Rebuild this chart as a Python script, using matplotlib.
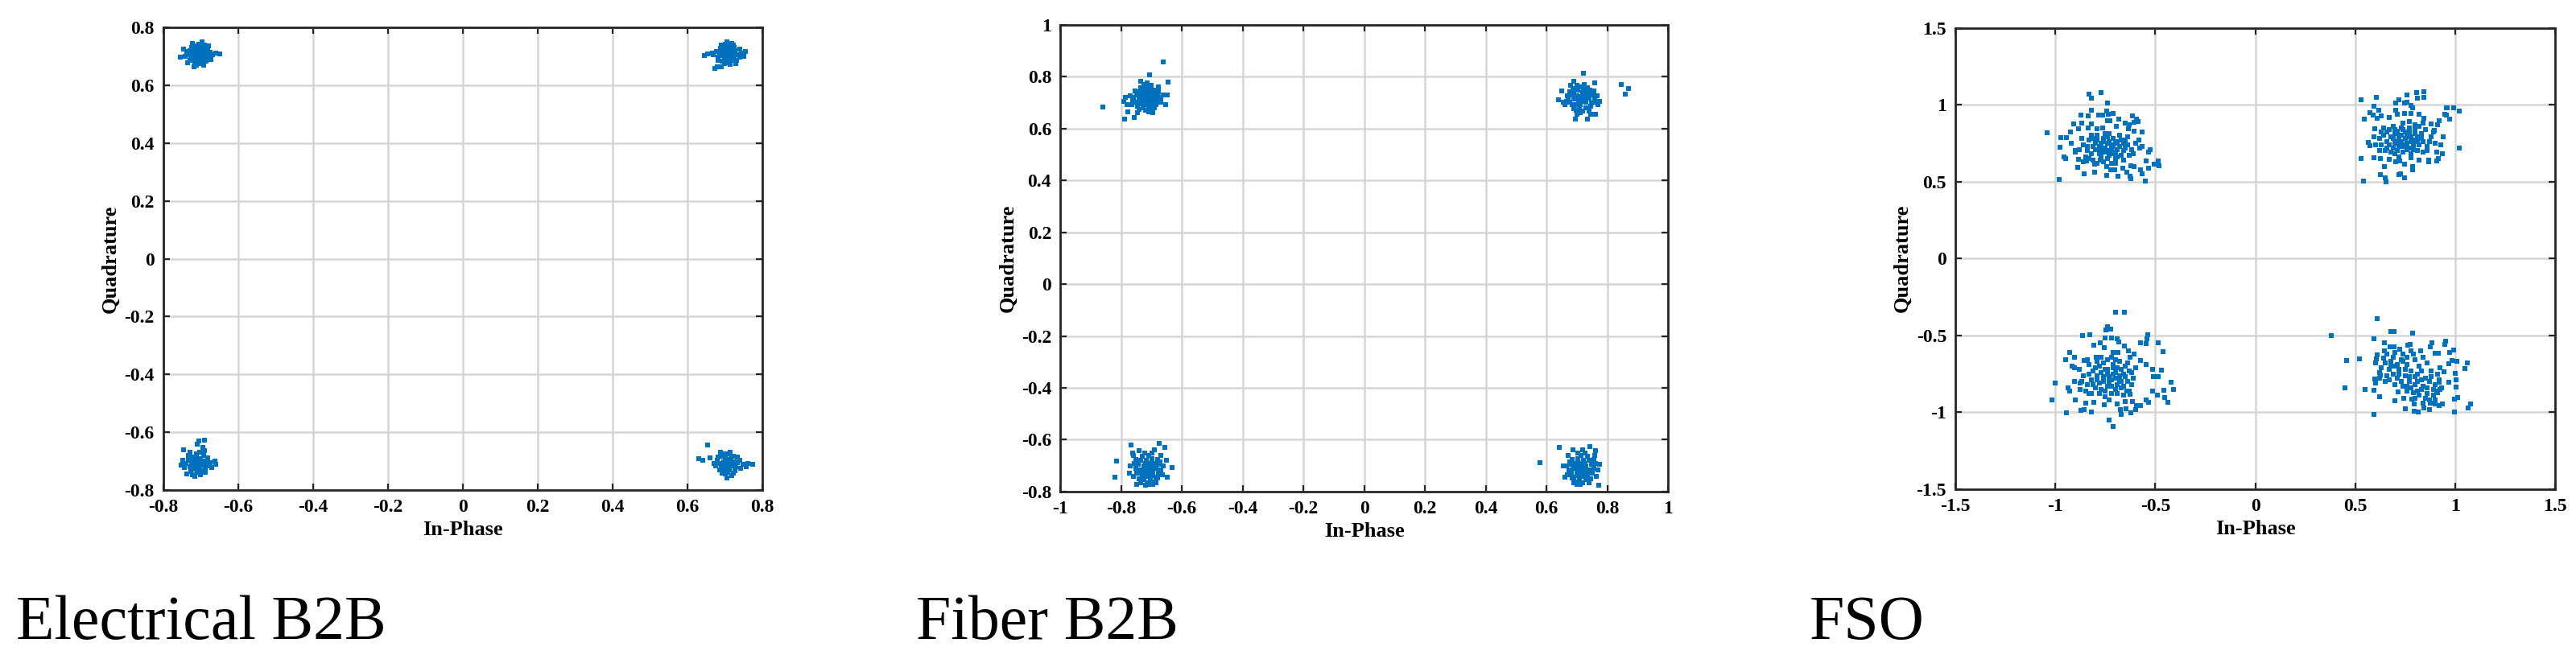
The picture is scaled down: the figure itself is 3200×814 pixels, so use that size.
import matplotlib
matplotlib.use("Agg")
import matplotlib.pyplot as plt
import numpy as np

# ---- constellation points (I, Q) ----
elec_ul = [(-0.707, 0.707), (-0.712, 0.715), (-0.700, 0.700), (-0.718, 0.703), (-0.696, 0.712), (-0.705, 0.722),
           (-0.710, 0.693), (-0.722, 0.712), (-0.692, 0.702), (-0.701, 0.690), (-0.715, 0.724), (-0.690, 0.718),
           (-0.726, 0.698), (-0.703, 0.730), (-0.714, 0.684), (-0.697, 0.725), (-0.684, 0.708), (-0.729, 0.720),
           (-0.708, 0.679), (-0.720, 0.690), (-0.688, 0.694), (-0.699, 0.686), (-0.724, 0.730), (-0.711, 0.736),
           (-0.694, 0.733), (-0.682, 0.722), (-0.733, 0.706), (-0.678, 0.700), (-0.716, 0.674), (-0.701, 0.676),
           (-0.737, 0.716), (-0.690, 0.740), (-0.706, 0.742), (-0.674, 0.714), (-0.742, 0.700), (-0.728, 0.685),
           (-0.686, 0.683), (-0.712, 0.668), (-0.669, 0.705), (-0.660, 0.712), (-0.650, 0.708), (-0.755, 0.698),
           (-0.745, 0.724), (-0.722, 0.745), (-0.697, 0.750), (-0.680, 0.735), (-0.673, 0.690), (-0.735, 0.678),
           (-0.718, 0.663), (-0.692, 0.670)]
elec_ur = [(0.707, 0.707), (0.712, 0.699), (0.700, 0.714), (0.719, 0.711), (0.695, 0.703), (0.704, 0.722),
           (0.716, 0.692), (0.691, 0.716), (0.724, 0.702), (0.700, 0.690), (0.713, 0.728), (0.686, 0.708),
           (0.728, 0.718), (0.697, 0.730), (0.720, 0.685), (0.708, 0.737), (0.681, 0.697), (0.733, 0.705),
           (0.693, 0.683), (0.726, 0.730), (0.710, 0.678), (0.677, 0.716), (0.739, 0.696), (0.702, 0.742),
           (0.688, 0.728), (0.718, 0.745), (0.683, 0.686), (0.732, 0.686), (0.745, 0.712), (0.670, 0.705),
           (0.715, 0.672), (0.699, 0.675), (0.722, 0.740), (0.690, 0.740), (0.740, 0.725), (0.705, 0.750),
           (0.666, 0.712), (0.655, 0.708), (0.645, 0.703), (0.680, 0.665), (0.673, 0.658), (0.691, 0.664),
           (0.750, 0.700), (0.755, 0.716), (0.729, 0.676), (0.711, 0.690), (0.703, 0.698), (0.717, 0.718),
           (0.694, 0.720), (0.726, 0.712)]
elec_ll = [(-0.707, -0.707), (-0.714, -0.699), (-0.700, -0.715), (-0.719, -0.712), (-0.696, -0.701),
           (-0.705, -0.724), (-0.712, -0.690), (-0.724, -0.703), (-0.690, -0.712), (-0.701, -0.692),
           (-0.716, -0.728), (-0.728, -0.718), (-0.688, -0.724), (-0.697, -0.734), (-0.721, -0.685),
           (-0.733, -0.697), (-0.684, -0.700), (-0.709, -0.740), (-0.693, -0.680), (-0.726, -0.735),
           (-0.739, -0.709), (-0.678, -0.716), (-0.712, -0.675), (-0.700, -0.746), (-0.744, -0.722),
           (-0.681, -0.688), (-0.722, -0.746), (-0.734, -0.680), (-0.674, -0.705), (-0.688, -0.738),
           (-0.748, -0.698), (-0.704, -0.668), (-0.716, -0.752), (-0.670, -0.722), (-0.752, -0.715),
           (-0.729, -0.670), (-0.690, -0.664), (-0.695, -0.652), (-0.710, -0.642), (-0.690, -0.628),
           (-0.705, -0.630), (-0.745, -0.660), (-0.663, -0.700), (-0.661, -0.712), (-0.737, -0.743),
           (-0.703, -0.717), (-0.718, -0.706), (-0.694, -0.708), (-0.710, -0.720), (-0.725, -0.692)]
elec_lr = [(0.707, -0.707), (0.713, -0.700), (0.700, -0.714), (0.720, -0.711), (0.696, -0.702), (0.705, -0.723),
           (0.716, -0.691), (0.690, -0.716), (0.725, -0.703), (0.701, -0.690), (0.712, -0.729), (0.685, -0.707),
           (0.729, -0.719), (0.697, -0.732), (0.722, -0.684), (0.708, -0.740), (0.680, -0.697), (0.734, -0.706),
           (0.692, -0.682), (0.727, -0.733), (0.710, -0.676), (0.676, -0.717), (0.740, -0.697), (0.702, -0.745),
           (0.687, -0.729), (0.719, -0.750), (0.683, -0.686), (0.733, -0.687), (0.748, -0.712), (0.671, -0.708),
           (0.715, -0.670), (0.699, -0.674), (0.723, -0.742), (0.693, -0.742), (0.742, -0.726), (0.706, -0.757),
           (0.653, -0.645), (0.630, -0.690), (0.642, -0.697), (0.660, -0.688), (0.775, -0.712), (0.762, -0.707),
           (0.688, -0.668), (0.757, -0.720), (0.711, -0.713), (0.703, -0.699), (0.718, -0.717), (0.694, -0.721),
           (0.726, -0.711), (0.709, -0.693)]

fiber_ul = [(-0.715, 0.715), (-0.705, 0.725), (-0.725, 0.705), (-0.700, 0.705), (-0.730, 0.725), (-0.712, 0.738),
            (-0.718, 0.692), (-0.690, 0.718), (-0.740, 0.712), (-0.695, 0.735), (-0.735, 0.695), (-0.722, 0.750),
            (-0.708, 0.682), (-0.683, 0.700), (-0.748, 0.730), (-0.702, 0.752), (-0.728, 0.680), (-0.680, 0.730),
            (-0.752, 0.700), (-0.690, 0.690), (-0.740, 0.742), (-0.715, 0.760), (-0.720, 0.670), (-0.675, 0.712),
            (-0.758, 0.718), (-0.697, 0.672), (-0.735, 0.758), (-0.688, 0.748), (-0.745, 0.684), (-0.710, 0.700),
            (-0.720, 0.728), (-0.700, 0.716), (-0.730, 0.712), (-0.712, 0.722), (-0.705, 0.690), (-0.726, 0.740),
            (-0.693, 0.726), (-0.738, 0.722), (-0.716, 0.704), (-0.684, 0.690), (-0.762, 0.708), (-0.670, 0.720),
            (-0.678, 0.742), (-0.755, 0.745), (-0.725, 0.768), (-0.700, 0.766), (-0.710, 0.665), (-0.740, 0.672),
            (-0.690, 0.678), (-0.668, 0.700), (-0.765, 0.690), (-0.770, 0.725), (-0.676, 0.760), (-0.745, 0.660),
            (-0.695, 0.660), (-0.660, 0.730), (-0.715, 0.775), (-0.735, 0.780), (-0.705, 0.745), (-0.722, 0.690),
            (-0.698, 0.700), (-0.732, 0.732), (-0.661, 0.856), (-0.706, 0.806), (-0.860, 0.682), (-0.788, 0.636),
            (-0.756, 0.642), (-0.645, 0.778), (-0.648, 0.729), (-0.653, 0.690), (-0.785, 0.720), (-0.780, 0.690),
            (-0.790, 0.705), (-0.778, 0.665)]
fiber_ur = [(0.715, 0.712), (0.725, 0.722), (0.705, 0.702), (0.730, 0.700), (0.700, 0.725), (0.718, 0.738),
            (0.712, 0.690), (0.740, 0.715), (0.690, 0.712), (0.735, 0.735), (0.695, 0.692), (0.722, 0.750),
            (0.708, 0.680), (0.748, 0.698), (0.682, 0.728), (0.702, 0.748), (0.730, 0.680), (0.752, 0.730),
            (0.678, 0.700), (0.690, 0.740), (0.742, 0.748), (0.715, 0.760), (0.720, 0.668), (0.758, 0.712),
            (0.672, 0.715), (0.697, 0.670), (0.735, 0.758), (0.688, 0.752), (0.745, 0.684), (0.710, 0.700),
            (0.720, 0.726), (0.700, 0.716), (0.730, 0.712), (0.712, 0.722), (0.705, 0.690), (0.726, 0.740),
            (0.693, 0.726), (0.738, 0.722), (0.716, 0.704), (0.684, 0.690), (0.762, 0.700), (0.668, 0.725),
            (0.676, 0.742), (0.755, 0.745), (0.725, 0.768), (0.700, 0.766), (0.710, 0.662), (0.740, 0.668),
            (0.690, 0.675), (0.665, 0.705), (0.768, 0.725), (0.770, 0.690), (0.660, 0.690), (0.745, 0.655),
            (0.700, 0.655), (0.680, 0.765), (0.722, 0.812), (0.846, 0.769), (0.870, 0.753), (0.860, 0.732),
            (0.735, 0.636), (0.695, 0.636), (0.650, 0.745), (0.655, 0.700), (0.760, 0.775), (0.775, 0.705),
            (0.762, 0.655), (0.690, 0.780), (0.640, 0.710)]
fiber_ll = [(-0.710, -0.715), (-0.700, -0.705), (-0.720, -0.725), (-0.695, -0.725), (-0.725, -0.700),
            (-0.707, -0.690), (-0.713, -0.740), (-0.685, -0.710), (-0.735, -0.715), (-0.690, -0.690),
            (-0.730, -0.738), (-0.717, -0.678), (-0.703, -0.752), (-0.678, -0.730), (-0.743, -0.695),
            (-0.697, -0.672), (-0.725, -0.752), (-0.675, -0.695), (-0.748, -0.728), (-0.685, -0.745),
            (-0.735, -0.680), (-0.710, -0.662), (-0.715, -0.765), (-0.668, -0.715), (-0.752, -0.710),
            (-0.692, -0.762), (-0.730, -0.665), (-0.680, -0.676), (-0.740, -0.750), (-0.705, -0.727),
            (-0.715, -0.700), (-0.695, -0.715), (-0.725, -0.713), (-0.707, -0.705), (-0.700, -0.738),
            (-0.720, -0.690), (-0.688, -0.700), (-0.733, -0.728), (-0.711, -0.720), (-0.679, -0.748),
            (-0.757, -0.690), (-0.665, -0.735), (-0.672, -0.685), (-0.750, -0.675), (-0.722, -0.650),
            (-0.698, -0.650), (-0.705, -0.772), (-0.735, -0.765), (-0.685, -0.767), (-0.662, -0.700),
            (-0.760, -0.742), (-0.758, -0.662), (-0.668, -0.660), (-0.740, -0.642), (-0.690, -0.640),
            (-0.720, -0.775), (-0.815, -0.682), (-0.820, -0.744), (-0.767, -0.620), (-0.674, -0.614),
            (-0.656, -0.629), (-0.632, -0.707), (-0.648, -0.744), (-0.748, -0.772), (-0.695, -0.772),
            (-0.770, -0.700), (-0.772, -0.728), (-0.650, -0.680), (-0.762, -0.652)]
fiber_lr = [(0.715, -0.715), (0.705, -0.705), (0.725, -0.725), (0.700, -0.725), (0.730, -0.700), (0.712, -0.690),
            (0.718, -0.740), (0.690, -0.710), (0.740, -0.715), (0.695, -0.690), (0.735, -0.738), (0.722, -0.678),
            (0.708, -0.752), (0.683, -0.730), (0.748, -0.695), (0.702, -0.672), (0.730, -0.752), (0.680, -0.695),
            (0.752, -0.728), (0.690, -0.745), (0.740, -0.680), (0.715, -0.662), (0.720, -0.765), (0.673, -0.715),
            (0.757, -0.710), (0.697, -0.762), (0.735, -0.665), (0.685, -0.676), (0.745, -0.750), (0.710, -0.727),
            (0.720, -0.700), (0.700, -0.715), (0.730, -0.713), (0.712, -0.705), (0.705, -0.738), (0.725, -0.690),
            (0.693, -0.700), (0.738, -0.728), (0.716, -0.720), (0.684, -0.748), (0.762, -0.690), (0.670, -0.735),
            (0.677, -0.685), (0.755, -0.675), (0.727, -0.650), (0.703, -0.650), (0.710, -0.772), (0.740, -0.765),
            (0.690, -0.767), (0.667, -0.700), (0.765, -0.742), (0.760, -0.662), (0.672, -0.660), (0.700, -0.772),
            (0.579, -0.688), (0.642, -0.629), (0.743, -0.626), (0.762, -0.642), (0.772, -0.775), (0.687, -0.639),
            (0.660, -0.745), (0.655, -0.700), (0.770, -0.715), (0.775, -0.695), (0.720, -0.640)]

fso_ul = [(-0.83, 1.07), (-0.82, 1.04), (-0.77, 1.08), (-0.74, 1.01), (-0.818, 0.965), (-0.743, 0.960),
          (-0.784, 0.935), (-0.764, 0.935), (-0.734, 0.939), (-0.712, 0.942), (-0.872, 0.933), (-0.835, 0.925),
          (-0.682, 0.907), (-0.615, 0.926), (-0.595, 0.904), (-0.908, 0.877), (-0.868, 0.881), (-0.820, 0.874),
          (-0.739, 0.898), (-0.726, 0.895), (-0.649, 0.881), (-0.631, 0.868), (-0.607, 0.886), (-0.585, 0.891),
          (-1.043, 0.819), (-0.973, 0.786), (-0.946, 0.786), (-0.926, 0.825), (-0.885, 0.842), (-0.838, 0.851),
          (-0.791, 0.842), (-0.764, 0.851), (-0.696, 0.860), (-0.635, 0.846), (-0.608, 0.828), (-0.568, 0.825),
          (-0.581, 0.772), (-0.568, 0.728), (-0.534, 0.693), (-0.527, 0.705), (-0.977, 0.725), (-0.955, 0.661),
          (-0.949, 0.649), (-0.899, 0.693), (-0.885, 0.644), (-0.845, 0.632), (-0.804, 0.611), (-0.777, 0.640),
          (-0.743, 0.596), (-0.723, 0.579), (-0.703, 0.579), (-0.662, 0.588), (-0.642, 0.561), (-0.622, 0.605),
          (-0.608, 0.596), (-0.574, 0.579), (-0.568, 0.553), (-0.547, 0.635), (-0.534, 0.588), (-0.507, 0.614),
          (-0.486, 0.632), (-0.482, 0.604), (-0.980, 0.516), (-0.888, 0.593), (-0.858, 0.553), (-0.804, 0.561),
          (-0.743, 0.540), (-0.689, 0.535), (-0.622, 0.518), (-0.550, 0.504), (-0.628, 0.535),
          (-0.75, 0.72), (-0.72, 0.74), (-0.78, 0.70), (-0.70, 0.69), (-0.76, 0.76), (-0.81, 0.73), (-0.68, 0.73),
          (-0.73, 0.67), (-0.79, 0.77), (-0.66, 0.70), (-0.74, 0.79), (-0.84, 0.70), (-0.71, 0.78), (-0.77, 0.66),
          (-0.69, 0.76), (-0.82, 0.68), (-0.64, 0.74), (-0.75, 0.69), (-0.80, 0.75), (-0.72, 0.71), (-0.67, 0.67),
          (-0.86, 0.74), (-0.78, 0.73), (-0.70, 0.65), (-0.74, 0.75), (-0.83, 0.77), (-0.65, 0.77), (-0.76, 0.63),
          (-0.88, 0.71), (-0.62, 0.71), (-0.79, 0.80), (-0.71, 0.73), (-0.73, 0.81), (-0.85, 0.66), (-0.68, 0.80),
          (-0.81, 0.64), (-0.63, 0.67), (-0.77, 0.75), (-0.69, 0.71), (-0.74, 0.65), (-0.80, 0.71), (-0.66, 0.64),
          (-0.87, 0.78), (-0.60, 0.75), (-0.76, 0.78), (-0.72, 0.62), (-0.84, 0.73), (-0.70, 0.75), (-0.78, 0.68),
          (-0.65, 0.72), (-0.82, 0.80), (-0.75, 0.81), (-0.90, 0.70), (-0.61, 0.68), (-0.73, 0.70), (-0.79, 0.62),
          (-0.67, 0.77), (-0.83, 0.65), (-0.71, 0.68), (-0.77, 0.72), (-0.58, 0.72), (-0.86, 0.63), (-0.64, 0.79),
          (-0.92, 0.75), (-0.70, 0.62), (-0.76, 0.69), (-0.69, 0.66), (-0.81, 0.78), (-0.73, 0.76), (-0.66, 0.75)]
fso_ur = [(0.530, 1.030), (0.606, 1.049), (0.758, 1.065), (0.808, 1.079), (0.844, 1.084), (0.812, 1.044),
          (0.842, 1.049), (0.720, 1.030), (0.745, 1.009), (0.758, 1.018), (0.779, 0.995), (0.788, 0.982),
          (0.592, 0.988), (0.704, 1.012), (0.618, 0.965), (0.572, 0.947), (0.588, 0.930), (0.546, 0.904),
          (0.609, 0.912), (0.629, 0.925), (0.670, 0.918), (0.704, 0.965), (0.711, 0.939), (0.745, 0.944),
          (0.779, 0.942), (0.819, 0.939), (0.842, 0.912), (0.962, 0.982), (0.955, 0.979), (0.992, 0.977),
          (1.019, 0.960), (0.948, 0.939), (0.955, 0.930), (0.971, 0.904), (0.918, 0.895), (0.910, 0.872),
          (0.878, 0.877), (0.894, 0.833), (0.599, 0.842), (0.629, 0.825), (0.595, 0.789), (0.564, 0.754),
          (0.572, 0.732), (0.602, 0.737), (0.622, 0.702), (0.939, 0.789), (0.928, 0.737), (0.908, 0.693),
          (0.935, 0.681), (0.914, 0.649), (0.908, 0.632), (1.019, 0.716), (0.531, 0.649), (0.595, 0.653),
          (0.626, 0.649), (0.670, 0.644), (0.704, 0.628), (0.724, 0.635), (0.745, 0.614), (0.779, 0.654),
          (0.819, 0.640), (0.867, 0.640), (0.867, 0.628), (0.647, 0.600), (0.788, 0.600), (0.788, 0.575),
          (0.625, 0.544), (0.720, 0.544), (0.728, 0.553), (0.745, 0.526), (0.649, 0.523), (0.654, 0.500),
          (0.541, 0.505),
          (0.75, 0.78), (0.72, 0.80), (0.78, 0.76), (0.70, 0.75), (0.77, 0.82), (0.81, 0.79), (0.68, 0.79),
          (0.74, 0.73), (0.80, 0.84), (0.66, 0.76), (0.73, 0.85), (0.84, 0.76), (0.71, 0.83), (0.79, 0.71),
          (0.69, 0.72), (0.83, 0.81), (0.64, 0.80), (0.76, 0.75), (0.72, 0.77), (0.86, 0.73), (0.67, 0.84),
          (0.78, 0.79), (0.74, 0.69), (0.82, 0.74), (0.70, 0.81), (0.63, 0.74), (0.80, 0.87), (0.76, 0.71),
          (0.88, 0.79), (0.65, 0.70), (0.73, 0.76), (0.85, 0.84), (0.71, 0.70), (0.77, 0.85), (0.69, 0.86),
          (0.81, 0.70), (0.75, 0.82), (0.66, 0.82), (0.84, 0.69), (0.72, 0.73), (0.79, 0.74), (0.62, 0.78),
          (0.87, 0.76), (0.74, 0.88), (0.70, 0.68), (0.78, 0.68), (0.83, 0.78), (0.67, 0.74), (0.76, 0.79),
          (0.80, 0.81), (0.73, 0.80), (0.89, 0.82), (0.64, 0.85), (0.71, 0.76), (0.82, 0.86), (0.77, 0.72),
          (0.68, 0.69), (0.86, 0.70), (0.74, 0.84), (0.79, 0.77), (0.69, 0.78), (0.84, 0.88), (0.72, 0.66),
          (0.66, 0.72), (0.81, 0.76), (0.75, 0.74), (0.90, 0.75), (0.77, 0.89), (0.70, 0.84), (0.63, 0.82)]
fso_ll = [(-0.700, -0.351), (-0.655, -0.347), (-0.739, -0.442), (-0.723, -0.461), (-0.747, -0.465),
          (-0.865, -0.500), (-0.828, -0.495), (-0.750, -0.518), (-0.719, -0.518), (-0.693, -0.521),
          (-0.682, -0.544), (-0.538, -0.495), (-0.541, -0.523), (-0.574, -0.549), (-0.545, -0.553),
          (-0.486, -0.549), (-0.462, -0.605), (-0.807, -0.565), (-0.777, -0.547), (-0.757, -0.582),
          (-0.655, -0.570), (-0.635, -0.600), (-0.605, -0.619), (-0.689, -0.611), (-0.928, -0.611),
          (-0.950, -0.658), (-0.905, -0.640), (-0.858, -0.663), (-0.797, -0.640), (-0.628, -0.640),
          (-0.574, -0.663), (-0.545, -0.689), (-0.514, -0.723), (-0.468, -0.728), (-0.511, -0.768),
          (-0.484, -0.768), (-0.916, -0.698), (-0.903, -0.711), (-1.003, -0.811), (-0.935, -0.839),
          (-0.930, -0.863), (-0.905, -0.798), (-0.876, -0.811), (-0.876, -0.851), (-0.901, -0.918),
          (-1.018, -0.918), (-0.946, -1.005), (-0.872, -0.988), (-0.855, -0.982), (-0.818, -0.996),
          (-0.847, -0.939), (-0.807, -0.933), (-0.422, -0.802), (-0.408, -0.851), (-0.457, -0.856),
          (-0.491, -0.889), (-0.454, -0.904), (-0.436, -0.933), (-0.514, -0.860), (-0.547, -0.921),
          (-0.536, -0.933), (-0.574, -0.956), (-0.595, -0.956), (-0.597, -0.982), (-0.622, -1.005),
          (-0.669, -1.014), (-0.676, -0.982), (-0.646, -0.979), (-0.693, -0.947), (-0.757, -0.953),
          (-0.732, -1.049), (-0.712, -1.091), (-0.831, -0.877), (-0.642, -0.860), (-0.628, -0.881),
          (-0.615, -0.930), (-0.649, -0.930),
          (-0.73, -0.77), (-0.70, -0.74), (-0.76, -0.80), (-0.68, -0.79), (-0.75, -0.72), (-0.79, -0.76),
          (-0.66, -0.75), (-0.72, -0.83), (-0.78, -0.70), (-0.64, -0.80), (-0.71, -0.69), (-0.82, -0.79),
          (-0.69, -0.71), (-0.77, -0.85), (-0.67, -0.84), (-0.81, -0.73), (-0.62, -0.74), (-0.74, -0.75),
          (-0.70, -0.78), (-0.84, -0.82), (-0.65, -0.70), (-0.76, -0.68), (-0.72, -0.88), (-0.80, -0.84),
          (-0.68, -0.67), (-0.61, -0.78), (-0.78, -0.81), (-0.74, -0.66), (-0.86, -0.76), (-0.63, -0.86),
          (-0.71, -0.75), (-0.83, -0.69), (-0.69, -0.82), (-0.75, -0.90), (-0.67, -0.72), (-0.79, -0.67),
          (-0.73, -0.80), (-0.60, -0.71), (-0.85, -0.86), (-0.72, -0.64), (-0.76, -0.77), (-0.66, -0.89),
          (-0.80, -0.71), (-0.70, -0.85), (-0.64, -0.68), (-0.77, -0.74), (-0.82, -0.88), (-0.74, -0.83),
          (-0.68, -0.76), (-0.88, -0.72), (-0.71, -0.71), (-0.62, -0.82), (-0.79, -0.79), (-0.75, -0.86),
          (-0.65, -0.77), (-0.70, -0.66), (-0.83, -0.75), (-0.73, -0.92), (-0.67, -0.80), (-0.77, -0.64),
          (-0.69, -0.88), (-0.81, -0.82), (-0.74, -0.72), (-0.63, -0.73), (-0.87, -0.80), (-0.72, -0.79),
          (-0.78, -0.88), (-0.66, -0.83), (-0.71, -0.61), (-0.84, -0.66)]
fso_lr = [(0.608, -0.390), (0.382, -0.500), (0.677, -0.475), (0.696, -0.475), (0.788, -0.484), (0.595, -0.523),
          (0.646, -0.549), (0.457, -0.661), (0.522, -0.655), (0.450, -0.841), (0.549, -0.850), (0.595, -0.855),
          (0.592, -1.014), (0.622, -0.899), (0.700, -0.926), (0.743, -0.908), (0.751, -0.979), (0.784, -0.912),
          (0.795, -0.947), (0.795, -0.991), (0.815, -1.000), (0.842, -0.973), (0.872, -0.982), (0.876, -0.938),
          (0.899, -0.947), (0.918, -0.956), (0.935, -0.943), (0.899, -0.917), (0.995, -1.000), (0.997, -0.912),
          (1.011, -0.903), (1.004, -0.837), (1.004, -0.788), (1.000, -0.747), (0.968, -0.802), (1.062, -0.678),
          (1.049, -0.714), (1.007, -0.670), (0.984, -0.664), (0.970, -0.686), (0.991, -0.594), (0.973, -0.611),
          (0.950, -0.535), (0.947, -0.558), (0.916, -0.615), (0.899, -0.617), (0.882, -0.546), (0.876, -0.576),
          (0.828, -0.602), (0.774, -0.558), (0.761, -0.562), (0.723, -0.588), (0.693, -0.576), (0.673, -0.572),
          (0.646, -0.602), (0.609, -0.625), (0.605, -0.655), (0.596, -0.784), (0.601, -0.811), (0.626, -0.756),
          (1.078, -0.947), (1.066, -0.973), (0.943, -0.735), (0.923, -0.708), (0.920, -0.806), (0.923, -0.850),
          (0.909, -0.864), (0.714, -0.867), (0.758, -0.832),
          (0.70, -0.70), (0.73, -0.66), (0.67, -0.72), (0.76, -0.69), (0.69, -0.64), (0.72, -0.75), (0.65, -0.68),
          (0.78, -0.73), (0.74, -0.62), (0.66, -0.76), (0.80, -0.66), (0.71, -0.78), (0.63, -0.71), (0.77, -0.77),
          (0.68, -0.67), (0.75, -0.72), (0.82, -0.70), (0.70, -0.61), (0.64, -0.65), (0.79, -0.62), (0.73, -0.80),
          (0.67, -0.79), (0.84, -0.64), (0.71, -0.69), (0.76, -0.64), (0.62, -0.74), (0.81, -0.75), (0.68, -0.70),
          (0.74, -0.67), (0.66, -0.62), (0.86, -0.68), (0.72, -0.72), (0.78, -0.60), (0.69, -0.75), (0.60, -0.68),
          (0.83, -0.73), (0.75, -0.76),
          (0.84, -0.83), (0.87, -0.80), (0.81, -0.86), (0.89, -0.85), (0.83, -0.79), (0.86, -0.88), (0.80, -0.82),
          (0.90, -0.82), (0.85, -0.91), (0.82, -0.89), (0.88, -0.77), (0.79, -0.87), (0.86, -0.84), (0.91, -0.87),
          (0.83, -0.85), (0.87, -0.92), (0.81, -0.80), (0.92, -0.79), (0.84, -0.94), (0.78, -0.84), (0.89, -0.89),
          (0.85, -0.78), (0.80, -0.91),
          (0.77, -0.80), (0.80, -0.77), (0.74, -0.83), (0.88, -0.73), (0.91, -0.75), (0.76, -0.86), (0.93, -0.84),
          (0.70, -0.82), (0.65, -0.80), (0.62, -0.78)]

panel_titles = ["Electrical B2B", "Fiber B2B", "FSO"]
x_limits = [(-0.8, 0.8), (-1.0, 1.0), (-1.5, 1.5)]
y_limits = [(-0.8, 0.8), (-0.8, 1.0), (-1.5, 1.5)]
tick_steps = [0.2, 0.2, 0.5]

MATLAB_BLUE = '#0072BD'
AX_RECTS = [[0.0634, 0.2518, 0.2325, 0.7064],
            [0.4116, 0.2494, 0.2359, 0.7131],
            [0.7591, 0.2531, 0.2328, 0.7045]]
TITLE_X = [0.0063, 0.3556, 0.7025]

plt.rcParams['font.family'] = 'Liberation Serif'
plt.rcParams['axes.unicode_minus'] = False


def fmt(v, _pos=None):
    v = round(v, 6)
    if abs(v) < 1e-9:
        return '0'
    return f'{v:g}'


def draw_panel(ax, clusters, xlim, ylim, step):
    for pts in clusters:
        arr = np.array(pts)
        ax.scatter(arr[:, 0], arr[:, 1], s=16, marker='s', color=MATLAB_BLUE,
                   linewidths=0, zorder=3)
    ax.set_xlim(*xlim)
    ax.set_ylim(*ylim)
    ax.set_xticks(np.arange(xlim[0], xlim[1] + step / 2, step))
    ax.set_yticks(np.arange(ylim[0], ylim[1] + step / 2, step))
    ax.xaxis.set_major_formatter(plt.FuncFormatter(fmt))
    ax.yaxis.set_major_formatter(plt.FuncFormatter(fmt))
    ax.set_axisbelow(True)
    ax.grid(True, color='#d6d6d6', linewidth=1.8)
    ax.tick_params(direction='in', length=6, width=1.6, top=True, right=True,
                   color='#262626', labelsize=17, pad=8)
    for lab in ax.get_xticklabels() + ax.get_yticklabels():
        lab.set_fontweight('bold')
    for sp in ax.spines.values():
        sp.set_linewidth(2.0)
        sp.set_color('#262626')
    ax.set_xlabel('In-Phase', fontsize=19, fontweight='bold', labelpad=4)
    ax.set_ylabel('Quadrature', fontsize=19, fontweight='bold', labelpad=4)


fig = plt.figure(figsize=(32, 8.14), dpi=100)
all_clusters = [[elec_ul, elec_ur, elec_ll, elec_lr],
                [fiber_ul, fiber_ur, fiber_ll, fiber_lr],
                [fso_ul, fso_ur, fso_ll, fso_lr]]
for k in range(3):
    ax = fig.add_axes(AX_RECTS[k])
    draw_panel(ax, all_clusters[k], x_limits[k], y_limits[k], tick_steps[k])
    fig.text(TITLE_X[k], 0.0246, panel_titles[k], fontsize=56, va='baseline', ha='left')

fig.savefig('out.png', dpi=100)
